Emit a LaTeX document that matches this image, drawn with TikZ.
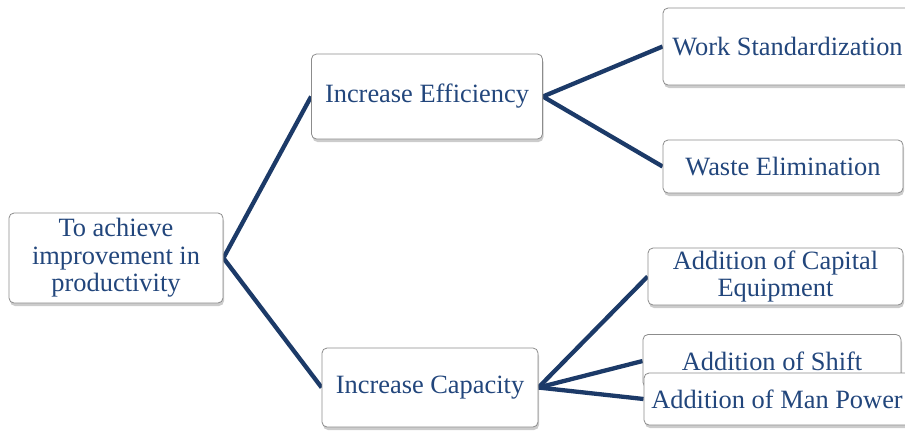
\documentclass[tikz,border=0pt]{standalone}
\usepackage{fontspec}
\setmainfont{Liberation Serif}
\usepackage{xcolor}
\usetikzlibrary{shadows,backgrounds,positioning}
\definecolor{boxtext}{RGB}{34,70,124}
\definecolor{linknavy}{RGB}{28,58,104}
\definecolor{boxline}{RGB}{140,140,140}

\begin{document}
\begin{tikzpicture}[x=1pt,y=-1pt,
    box/.style={draw=boxline,line width=0.8pt,rounded corners=5pt,fill=white,
      drop shadow={opacity=0.4,shadow xshift=1pt,shadow yshift=-3pt},
      text=boxtext,align=center,inner sep=0pt,
      font=\fontsize{26.4}{27.5}\selectfont},
    link/.style={draw=linknavy,line width=4.3pt}]
    \useasboundingbox (0,0) rectangle (905,432);

    % Goal
    \node[box,minimum width=214pt,minimum height=90pt] (goal) at (116,258) {To achieve\\improvement in\\productivity};

    % Strategies
    \node[box,minimum width=231pt,minimum height=85pt] (eff) at (427,96.5) {Increase Efficiency};
    \node[box,minimum width=216pt,minimum height=79pt] (cap) at (430,387.5) {Increase Capacity};

    % Efficiency actions
    \node[box,minimum width=249pt,minimum height=77pt] (std) at (787.5,46.5) {Work Standardization};
    \node[box,minimum width=240pt,minimum height=53pt] (waste) at (783,166.5) {Waste Elimination};

    % Capacity actions
    \node[box,minimum width=255pt,minimum height=57pt] (capital) at (775.5,276.5) {Addition of Capital\\Equipment};
    \node[box,minimum width=258pt,minimum height=53pt] (shift) at (772,361) {Addition of Shift};
    \node[box,minimum width=266pt,minimum height=52pt] (man) at (777,399) {Addition of Man Power};

    % Connectors
    \begin{scope}[on background layer]
        \draw[link] (goal.east) -- (eff.west);
        \draw[link] (goal.east) -- (cap.west);
        \draw[link] (eff.east) -- (std.west);
        \draw[link] (eff.east) -- (waste.west);
        \draw[link] (cap.east) -- (capital.west);
        \draw[link] (cap.east) -- (shift.west);
        \draw[link] (cap.east) -- (man.west);
    \end{scope}
\end{tikzpicture}
\end{document}
